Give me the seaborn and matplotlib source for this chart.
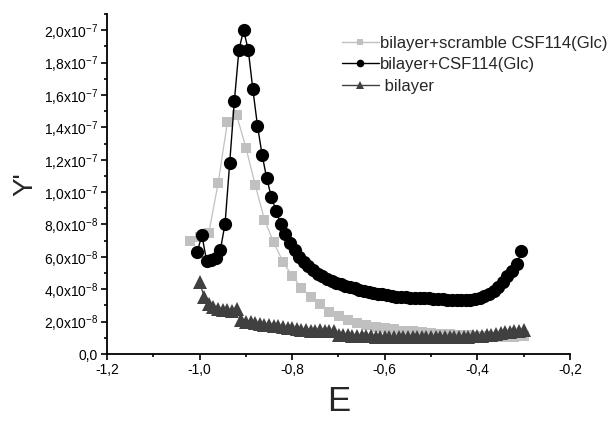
import matplotlib
matplotlib.use("Agg")
import matplotlib.pyplot as plt
from matplotlib.lines import Line2D
from matplotlib.ticker import FixedLocator, MultipleLocator
import pandas as pd
import seaborn as sns

# Potential E (V) and derivative signal Y' (units of 1e-8)
SCALE = 1e-8

e_csf = [-1.005, -0.995, -0.985, -0.975, -0.965, -0.955, -0.945, -0.935, -0.925, -0.915,
         -0.905, -0.895, -0.885, -0.875, -0.865, -0.855, -0.845, -0.835, -0.825, -0.815,
         -0.805, -0.795, -0.785, -0.775, -0.765, -0.755, -0.745, -0.735, -0.725, -0.715,
         -0.705, -0.695, -0.685, -0.675, -0.665, -0.655, -0.645, -0.635, -0.625, -0.615,
         -0.605, -0.595, -0.585, -0.575, -0.565, -0.555, -0.545, -0.535, -0.525, -0.515,
         -0.505, -0.495, -0.485, -0.475, -0.465, -0.455, -0.445, -0.435, -0.425, -0.415,
         -0.405, -0.395, -0.385, -0.375, -0.365, -0.355, -0.345, -0.335, -0.325, -0.315,
         -0.305]
y_csf = [6.30, 7.35, 5.75, 5.80, 5.95, 6.45, 8.05, 11.8, 15.6, 18.8,
         20.0, 18.8, 16.35, 14.1, 12.3, 10.85, 9.70, 8.85, 8.05, 7.40,
         6.85, 6.45, 6.00, 5.70, 5.45, 5.20, 4.95, 4.80, 4.65, 4.50,
         4.40, 4.30, 4.22, 4.15, 4.05, 3.97, 3.90, 3.83, 3.77, 3.72,
         3.68, 3.63, 3.58, 3.55, 3.52, 3.50, 3.48, 3.46, 3.45, 3.44,
         3.45, 3.42, 3.40, 3.38, 3.36, 3.35, 3.34, 3.34, 3.35, 3.36,
         3.40, 3.47, 3.58, 3.72, 3.90, 4.15, 4.45, 4.80, 5.10, 5.55,
         6.35]

e_scr = [-1.02, -1.00, -0.98, -0.96, -0.94, -0.92, -0.90, -0.88, -0.86, -0.84,
         -0.82, -0.80, -0.78, -0.76, -0.74, -0.72, -0.70, -0.68, -0.66, -0.64,
         -0.62, -0.60, -0.58, -0.56, -0.54, -0.52, -0.50, -0.48, -0.46, -0.44,
         -0.42, -0.40, -0.38, -0.36, -0.34, -0.32, -0.30]
y_scr = [6.95, 7.20, 7.50, 10.55, 14.3, 14.75, 12.75, 10.45, 8.30, 6.90,
         5.70, 4.80, 4.10, 3.50, 3.08, 2.62, 2.34, 2.10, 1.90, 1.79,
         1.69, 1.60, 1.52, 1.45, 1.40, 1.35, 1.30, 1.26, 1.22, 1.18,
         1.15, 1.12, 1.10, 1.08, 1.07, 1.07, 1.10]

e_bil = [-1.00, -0.99, -0.98, -0.97, -0.96, -0.95, -0.94, -0.93, -0.92, -0.91,
         -0.90, -0.89, -0.88, -0.87, -0.86, -0.85, -0.84, -0.83, -0.82, -0.81,
         -0.80, -0.79, -0.78, -0.77, -0.76, -0.75, -0.74, -0.73, -0.72, -0.71,
         -0.70, -0.69, -0.68, -0.67, -0.66, -0.65, -0.64, -0.63, -0.62, -0.61,
         -0.60, -0.59, -0.58, -0.57, -0.56, -0.55, -0.54, -0.53, -0.52, -0.51,
         -0.50, -0.49, -0.48, -0.47, -0.46, -0.45, -0.44, -0.43, -0.42, -0.41,
         -0.40, -0.39, -0.38, -0.37, -0.36, -0.35, -0.34, -0.33, -0.32, -0.31,
         -0.30]
y_bil = [4.45, 3.50, 3.10, 2.90, 2.80, 2.70, 2.72, 2.68, 2.75, 2.10,
         1.98, 1.95, 1.90, 1.87, 1.82, 1.80, 1.75, 1.72, 1.68, 1.62,
         1.58, 1.55, 1.50, 1.47, 1.45, 1.45, 1.47, 1.45, 1.43, 1.42,
         1.20, 1.17, 1.15, 1.13, 1.12, 1.10, 1.10, 1.09, 1.08, 1.08,
         1.07, 1.07, 1.07, 1.06, 1.06, 1.06, 1.06, 1.06, 1.06, 1.06,
         1.06, 1.06, 1.06, 1.06, 1.06, 1.06, 1.07, 1.07, 1.08, 1.09,
         1.10, 1.12, 1.15, 1.20, 1.25, 1.30, 1.33, 1.37, 1.40, 1.43,
         1.47]

labels = ["bilayer+scramble CSF114(Glc)", "bilayer+CSF114(Glc)", " bilayer"]

x_ticks = [-1.2, -1.0, -0.8, -0.6, -0.4, -0.2]
x_tick_labels = ["-1,2", "-1,0", "-0,8", "-0,6", "-0,4", "-0,2"]
y_ticks = [0.0, 2e-8, 4e-8, 6e-8, 8e-8, 1.0e-7, 1.2e-7, 1.4e-7, 1.6e-7, 1.8e-7, 2.0e-7]
y_tick_labels = ["0,0", "2,0x10$^{-8}$", "4,0x10$^{-8}$", "6,0x10$^{-8}$", "8,0x10$^{-8}$",
                 "1,0x10$^{-7}$", "1,2x10$^{-7}$", "1,4x10$^{-7}$", "1,6x10$^{-7}$",
                 "1,8x10$^{-7}$", "2,0x10$^{-7}$"]

sns.set_style("ticks")
plt.rcParams["font.family"] = ["Liberation Sans", "DejaVu Sans"]
plt.rcParams["mathtext.default"] = "regular"
plt.rcParams["axes.unicode_minus"] = False

fig = plt.figure(figsize=(6.09, 4.21), dpi=100)
ax = fig.add_axes([107 / 609, 1 - 354 / 421, (570 - 107) / 609, (354 - 14) / 421])

c_scr, c_csf, c_bil = "#c0c0c0", "#000000", "#404040"

df_scr = pd.DataFrame({"E": e_scr, "Y": [v * SCALE for v in y_scr]})
df_csf = pd.DataFrame({"E": e_csf, "Y": [v * SCALE for v in y_csf]})
df_bil = pd.DataFrame({"E": e_bil, "Y": [v * SCALE for v in y_bil]})

sns.lineplot(data=df_scr, x="E", y="Y", ax=ax, sort=False, color=c_scr, lw=0.9,
             marker="s", markersize=7, markeredgecolor=c_scr, markeredgewidth=0, zorder=2)
sns.lineplot(data=df_bil, x="E", y="Y", ax=ax, sort=False, color=c_bil, lw=0.9,
             marker="^", markersize=10, markeredgecolor=c_bil, markeredgewidth=0, zorder=3)
sns.lineplot(data=df_csf, x="E", y="Y", ax=ax, sort=False, color=c_csf, lw=1.0,
             marker="o", markersize=9.5, markeredgecolor=c_csf, markeredgewidth=0, zorder=4)

ax.set_xlim(-1.2, -0.2)
ax.set_ylim(0, 2.1e-7)
ax.xaxis.set_major_locator(FixedLocator(x_ticks))
ax.set_xticklabels(x_tick_labels)
ax.xaxis.set_minor_locator(MultipleLocator(0.1))
ax.yaxis.set_major_locator(FixedLocator(y_ticks))
ax.set_yticklabels(y_tick_labels)
ax.yaxis.set_minor_locator(MultipleLocator(1e-8))

sns.despine(ax=ax)
for side in ("left", "bottom"):
    ax.spines[side].set_linewidth(1.3)
    ax.spines[side].set_color("black")
ax.tick_params(which="major", direction="out", length=4.5, width=1.2, labelsize=10,
               colors="black", pad=2)
ax.tick_params(which="minor", direction="out", length=2.5, width=1.2, colors="black")

ax.set_xlabel("E", fontsize=25, labelpad=6)
ax.set_ylabel("Y'", fontsize=20, labelpad=4)

handles = [
    Line2D([], [], color=c_scr, lw=1.0, marker="s", markersize=5, markeredgewidth=0),
    Line2D([], [], color=c_csf, lw=1.0, marker="o", markersize=5.5, markeredgewidth=0),
    Line2D([], [], color=c_bil, lw=1.0, marker="^", markersize=6, markeredgewidth=0),
]
ax.legend(handles, labels, loc="upper left", bbox_to_anchor=(342 / 609, 1 - 36 / 421),
          bbox_transform=fig.transFigure, frameon=False, fontsize=12, handlelength=2.2,
          handletextpad=0.05, labelspacing=0.38, borderpad=0, borderaxespad=0, numpoints=1)

fig.savefig("out.png", dpi=100)
